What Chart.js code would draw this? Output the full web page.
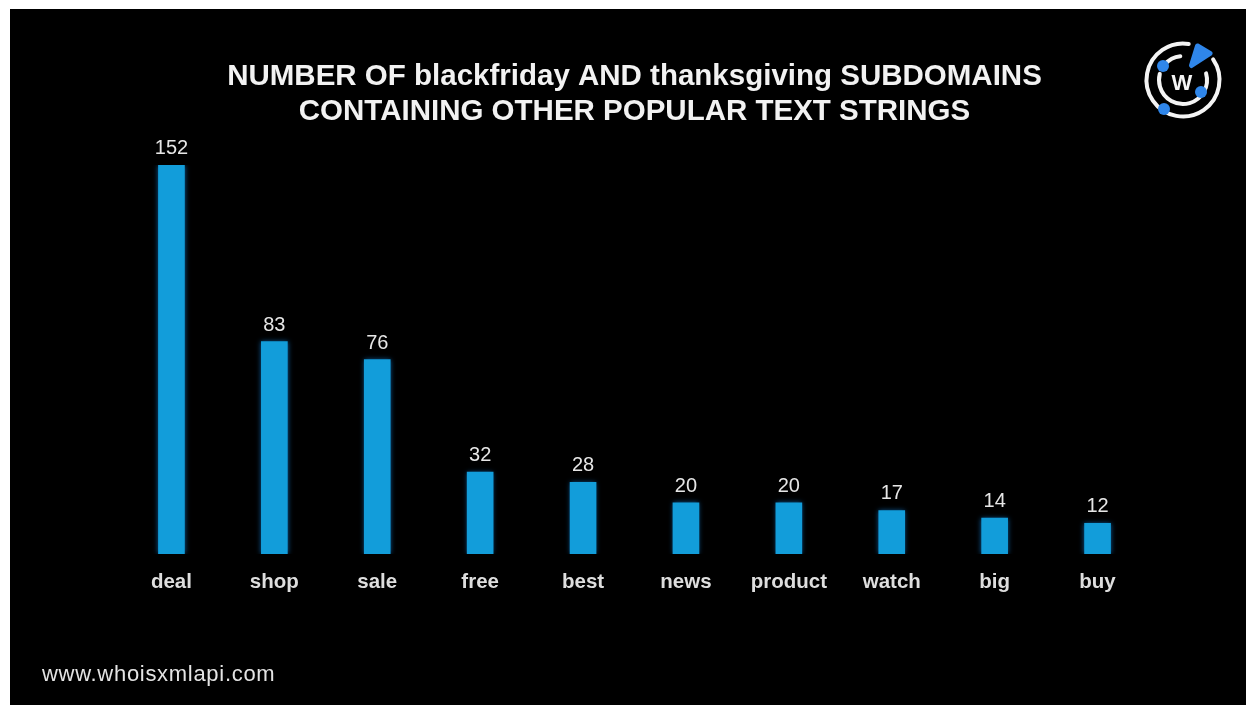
<!DOCTYPE html>
<html>
<head>
<meta charset="utf-8">
<title>Subdomains chart</title>
<style>
  html, body { margin: 0; padding: 0; background: #fff; }
  #wrap { position: absolute; left: 0; top: 0; width: 1246px; height: 705px; }
</style>
<script src="https://cdn.jsdelivr.net/npm/chart.js@4/dist/chart.umd.min.js"></script>
</head>
<body>
<div id="wrap"><canvas id="chart" width="1246" height="705"></canvas></div>
<script>
// --- Chart data ---
const CATEGORIES = ['deal', 'shop', 'sale', 'free', 'best', 'news', 'product', 'watch', 'big', 'buy'];
const COUNTS = [152, 83, 76, 32, 28, 20, 20, 17, 14, 12];
const TITLE_LINES = ['NUMBER OF blackfriday AND thanksgiving SUBDOMAINS', 'CONTAINING OTHER POPULAR TEXT STRINGS'];
const SITE_URL = 'www.whoisxmlapi.com';

const FONT = '"Liberation Sans", Arial, sans-serif';
const BAR_BLUE = '#129dda';

// black panel behind everything
const panelPlugin = {
  id: 'panel',
  beforeDraw(chart) {
    const c = chart.ctx;
    c.save();
    c.fillStyle = '#fff';
    c.fillRect(0, 0, chart.width, chart.height);
    c.fillStyle = '#000';
    c.fillRect(10, 9, chart.width - 10, chart.height - 9);
    c.restore();
  }
};

// soft blue glow around the bars
const glowPlugin = {
  id: 'glow',
  beforeDatasetDraw(chart) {
    chart.ctx.save();
    chart.ctx.shadowColor = 'rgba(20,130,220,0.7)';
    chart.ctx.shadowBlur = 5;
  },
  afterDatasetDraw(chart) {
    chart.ctx.restore();
  }
};

// count above each bar
const valueLabels = {
  id: 'valueLabels',
  afterDatasetsDraw(chart) {
    const c = chart.ctx;
    c.save();
    c.fillStyle = '#e6e6e6';
    c.font = '20px ' + FONT;
    c.textAlign = 'center';
    c.textBaseline = 'alphabetic';
    chart.getDatasetMeta(0).data.forEach((bar, i) => {
      c.fillText(COUNTS[i], bar.x, bar.y - 11);
    });
    c.restore();
  }
};

// title, site address and round logo
const decorations = {
  id: 'decorations',
  afterDraw(chart) {
    const c = chart.ctx;
    c.save();
    c.fillStyle = '#f2f2f2';
    c.font = 'bold 29.5px ' + FONT;
    c.textAlign = 'center';
    c.fillText(TITLE_LINES[0], 634.5, 85);
    c.fillText(TITLE_LINES[1], 634.5, 120);

    c.textAlign = 'left';
    c.fillStyle = '#e4e4e4';
    c.font = '22px ' + FONT;
    c.letterSpacing = '0.7px';
    c.fillText(SITE_URL, 42, 681);
    c.letterSpacing = '0px';

    // logo rings
    const cx = 1183, cy = 80;
    c.strokeStyle = '#f4f4f4';
    c.lineWidth = 4;
    c.lineCap = 'round';
    c.beginPath();
    c.arc(cx, cy, 36.5, -0.6, 4.87);
    c.stroke();
    c.beginPath();
    c.arc(cx, cy, 24, -0.28, 3.4);
    c.stroke();
    c.beginPath();
    c.arc(cx, cy, 24, 3.85, 4.6);
    c.stroke();

    // logo dots and pointer
    c.fillStyle = '#2f86ea';
    c.strokeStyle = '#2f86ea';
    [[1163, 66], [1201, 92], [1164, 109]].forEach(([x, y]) => {
      c.beginPath();
      c.arc(x, y, 6, 0, Math.PI * 2);
      c.fill();
    });
    c.lineWidth = 5;
    c.lineJoin = 'round';
    c.beginPath();
    c.moveTo(1197.5, 46);
    c.lineTo(1210, 53.5);
    c.lineTo(1191.5, 65.5);
    c.closePath();
    c.fill();
    c.stroke();

    c.fillStyle = '#f4f4f4';
    c.font = 'bold 22px ' + FONT;
    c.textAlign = 'center';
    c.fillText('W', 1182, 90);
    c.restore();
  }
};

new Chart(document.getElementById('chart'), {
  type: 'bar',
  data: {
    labels: CATEGORIES,
    datasets: [{ data: COUNTS, backgroundColor: BAR_BLUE, barThickness: 26, borderWidth: 0 }]
  },
  options: {
    responsive: false,
    animation: false,
    events: [],
    layout: { padding: { left: 120, right: 97, top: 165, bottom: 0 } },
    plugins: { legend: { display: false }, tooltip: { enabled: false }, title: { display: false } },
    scales: {
      x: {
        position: 'bottom',
        grid: { display: false, drawTicks: false },
        border: { display: false },
        ticks: { color: '#dedede', font: { family: FONT, size: 20.5, weight: 'bold' }, padding: 16, maxRotation: 0, autoSkip: false },
        // keep the baseline fixed whatever the label height
        afterFit(scale) { scale.height = 151; }
      },
      y: {
        min: 0,
        max: 152,
        display: false
      }
    }
  },
  plugins: [panelPlugin, glowPlugin, valueLabels, decorations]
});
</script>
</body>
</html>
